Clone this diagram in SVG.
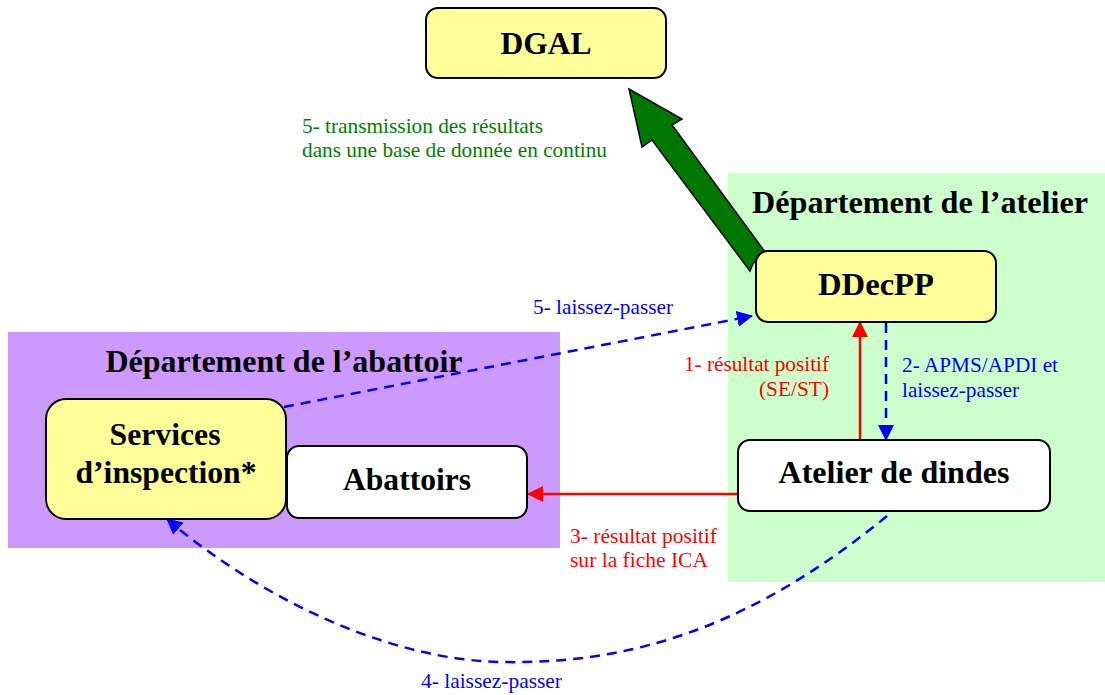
<svg xmlns="http://www.w3.org/2000/svg" width="1105" height="695" viewBox="0 0 1105 695">
<style>
.box{stroke:#000;stroke-width:2}
.y{fill:#ffff99}
.w{fill:#fff}
.t{font-family:"Liberation Serif","Times New Roman",serif;font-weight:bold;font-size:32px;fill:#000;text-anchor:middle}
.s{font-family:"Liberation Serif","Times New Roman",serif;font-size:21px}
.bl{fill:#0000ff}.rd{fill:#ff0000}.gr{fill:#008000}
.dash{fill:none;stroke:#0000ff;stroke-width:2.5;stroke-dasharray:10 7}
.red{fill:none;stroke:#ff0000;stroke-width:2.5}
</style>
<defs>
<marker id="blueHead" viewBox="0 0 16 16" refX="15" refY="8" markerWidth="16" markerHeight="16" markerUnits="userSpaceOnUse" orient="auto"><path d="M0,0 L16,8 L0,16 Z" fill="#0000ff"/></marker>
<marker id="redHead" viewBox="0 0 16 16" refX="15" refY="8" markerWidth="16" markerHeight="16" markerUnits="userSpaceOnUse" orient="auto"><path d="M0,0 L16,8 L0,16 Z" fill="#ff0000"/></marker>
</defs>
<rect width="1105" height="695" fill="#fff"/>
<g id="dept-atelier">
<rect x="728" y="173" width="377" height="409" fill="#ccffcc"/>
<text class="t" x="920" y="213" textLength="336" lengthAdjust="spacingAndGlyphs">Département de l’atelier</text>
</g>
<g id="dept-abattoir">
<rect x="8" y="332" width="552" height="216" fill="#cc99ff"/>
<text class="t" x="284" y="372" textLength="357" lengthAdjust="spacingAndGlyphs">Département de l’abattoir</text>
</g>
<g id="connectors">
<path d="M765,252 L672,125 L682,119 L629,89 L642,147 L652,140 L750,271 Q754,258 765,252 Z" fill="#007700" stroke="#000" stroke-width="1.5" stroke-linejoin="miter"/>
<line class="red" x1="860" y1="440" x2="860" y2="322" marker-end="url(#redHead)"/>
<line class="dash" x1="886" y1="323" x2="886" y2="440" marker-end="url(#blueHead)"/>
<line class="red" x1="738" y1="494" x2="528" y2="494" marker-end="url(#redHead)"/>
<line class="dash" x1="284" y1="407" x2="752" y2="316" marker-end="url(#blueHead)"/>
<path class="dash" d="M887,516 C760,620 640,665 502,662 C380,660 250,590 167,519" marker-end="url(#blueHead)"/>
<text class="s gr" x="302" y="133" textLength="241" lengthAdjust="spacingAndGlyphs">5- transmission des résultats</text>
<text class="s gr" x="302" y="157" textLength="305" lengthAdjust="spacingAndGlyphs">dans une base de donnée en continu</text>
<text class="s bl" x="533" y="314" textLength="140" lengthAdjust="spacingAndGlyphs">5- laissez-passer</text>
<text class="s rd" x="684" y="371" textLength="145" lengthAdjust="spacingAndGlyphs">1- résultat positif</text>
<text class="s rd" x="759" y="396" textLength="70" lengthAdjust="spacingAndGlyphs">(SE/ST)</text>
<text class="s bl" x="902" y="372" textLength="156" lengthAdjust="spacingAndGlyphs">2- APMS/APDI et</text>
<text class="s bl" x="902" y="397" textLength="117" lengthAdjust="spacingAndGlyphs">laissez-passer</text>
<text class="s rd" x="570" y="543" textLength="147" lengthAdjust="spacingAndGlyphs">3- résultat positif</text>
<text class="s rd" x="570" y="567" textLength="138" lengthAdjust="spacingAndGlyphs">sur la fiche ICA</text>
<text class="s bl" x="421" y="688" textLength="141" lengthAdjust="spacingAndGlyphs">4- laissez-passer</text>
</g>
<g id="dgal">
<rect class="box y" x="426" y="8" width="240" height="70" rx="12"/>
<text class="t" x="546" y="54" textLength="91" lengthAdjust="spacingAndGlyphs">DGAL</text>
</g>
<g id="ddecpp">
<rect class="box y" x="756" y="251" width="240" height="71" rx="12"/>
<text class="t" x="876" y="295" textLength="116" lengthAdjust="spacingAndGlyphs">DDecPP</text>
</g>
<g id="services">
<rect class="box y" x="46" y="399" width="240" height="120" rx="20"/>
<text class="t" x="165" y="445" textLength="111" lengthAdjust="spacingAndGlyphs">Services</text>
<text class="t" x="166" y="483" textLength="181" lengthAdjust="spacingAndGlyphs">d’inspection*</text>
</g>
<g id="abattoirs">
<rect class="box w" x="287" y="446" width="240" height="72" rx="12"/>
<text class="t" x="407" y="490" textLength="128" lengthAdjust="spacingAndGlyphs">Abattoirs</text>
</g>
<g id="atelier">
<rect class="box w" x="738" y="440" width="312" height="71" rx="12"/>
<text class="t" x="894" y="483" textLength="231" lengthAdjust="spacingAndGlyphs">Atelier de dindes</text>
</g>
</svg>
